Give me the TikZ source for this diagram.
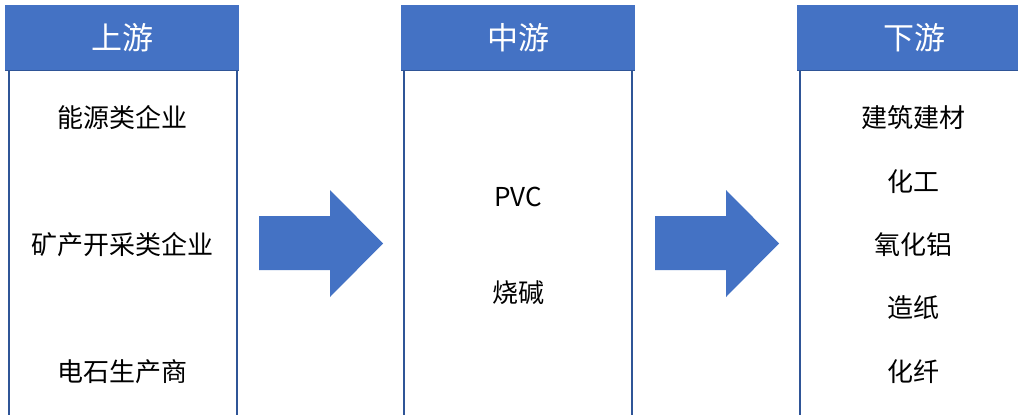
\documentclass[tikz,border=0pt]{standalone}
\usepackage{fontspec}
\setmainfont{Noto Sans CJK SC}
\definecolor{hdr}{HTML}{4472C4}
\definecolor{bord}{HTML}{2F5597}
\begin{document}
\begin{tikzpicture}[x=1pt,y=-1pt,
  head/.style={fill=hdr, draw=none, minimum width=234pt, minimum height=65pt, inner sep=0pt, anchor=north west, text=white, font=\fontsize{31}{32}\selectfont},
  body/.style={fill=white, draw=bord, line width=1.5pt, minimum width=228pt, minimum height=370pt, inner sep=0pt, anchor=north west},
  item/.style={font=\fontsize{26}{27}\selectfont, text=black, inner sep=0pt},
  blockarrow/.style={fill=hdr, draw=none}]
\clip (0,0) rectangle (1018,415);
\fill[white] (0,0) rectangle (1018,415);
% bodies
\node[body] (b1) at (8,68) {};
\node[body] (b2) at (403,68) {};
\node[body] (b3) at (799,68) {};
% headers
\node[head] (h1) at (5,5) {上游};
\node[head] (h2) at (401,5) {中游};
\node[head] (h3) at (797,5) {下游};
\draw[bord, line width=1.2pt] (h1.south west) -- (h1.south east);
\draw[bord, line width=1.2pt] (h2.south west) -- (h2.south east);
\draw[bord, line width=1.2pt] (h3.south west) -- (h3.south east);
% items column 1
\node[item] (a1) at (122,118) {能源类企业};
\node[item] (a2) at (122,245) {矿产开采类企业};
\node[item] (a3) at (122,372) {电石生产商};
% column 2
\node[item] (m1) at (518,197) {PVC};
\node[item] (m2) at (518,293) {烧碱};
% column 3
\node[item] (d1) at (913,118) {建筑建材};
\node[item] (d2) at (913,182) {化工};
\node[item] (d3) at (913,245) {氧化铝};
\node[item] (d4) at (913,308) {造纸};
\node[item] (d5) at (913,372) {化纤};
% arrows
\fill[blockarrow] (259,216) -- (330,216) -- (330,190) -- (383,243.5) -- (330,297) -- (330,270) -- (259,270) -- cycle;
\fill[blockarrow] (655,216) -- (726,216) -- (726,190) -- (779,243.5) -- (726,297) -- (726,270) -- (655,270) -- cycle;
\end{tikzpicture}
\end{document}
